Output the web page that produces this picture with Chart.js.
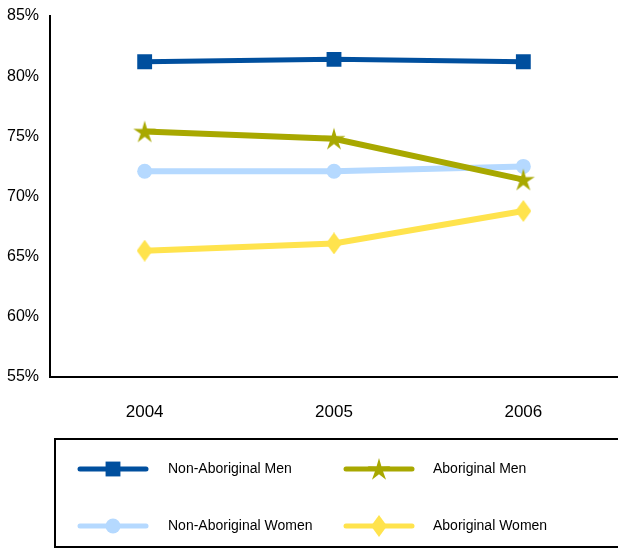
<!DOCTYPE html>
<html>
<head>
<meta charset="utf-8">
<script src="https://cdn.jsdelivr.net/npm/chart.js@4/dist/chart.umd.min.js"></script>
<style>
  html, body { margin: 0; padding: 0; background: #fff; }
  canvas { display: block; }
</style>
</head>
<body>
<canvas id="c" width="618" height="550"></canvas>
<script>
// Employment rate by year, percent
const years = ['2004', '2005', '2006'];
const nonAboriginalMen = [81.2, 81.4, 81.2];
const aboriginalMen = [75.4, 74.8, 71.4];
const nonAboriginalWomen = [72.1, 72.1, 72.5];
const aboriginalWomen = [65.5, 66.1, 68.8];
const seriesNames = ['Non-Aboriginal Men', 'Aboriginal Men', 'Non-Aboriginal Women', 'Aboriginal Women'];

const FONT = 'Liberation Sans, Arial, sans-serif';

// Marker sprites for the star and the tall diamond
function starSprite(color, outer, inner) {
  const s = Math.ceil(outer * 2 + 2);
  const cv = document.createElement('canvas');
  cv.width = s; cv.height = s;
  const g = cv.getContext('2d');
  g.fillStyle = color;
  g.beginPath();
  for (let i = 0; i < 10; i++) {
    const r = i % 2 === 0 ? outer : inner;
    const a = -Math.PI / 2 + i * Math.PI / 5;
    const px = s / 2 + r * Math.cos(a);
    const py = s / 2 + 1 + r * Math.sin(a);
    if (i === 0) g.moveTo(px, py); else g.lineTo(px, py);
  }
  g.closePath();
  g.fill();
  return cv;
}
function diamondSprite(color, w, h) {
  const cv = document.createElement('canvas');
  cv.width = w; cv.height = h;
  const g = cv.getContext('2d');
  g.fillStyle = color;
  g.beginPath();
  g.moveTo(w / 2, 0);
  g.lineTo(w, h / 2);
  g.lineTo(w / 2, h);
  g.lineTo(0, h / 2);
  g.closePath();
  g.fill();
  return cv;
}

const C_BLUE = '#004f9e';
const C_OLIVE = '#a8a800';
const C_LIGHT = '#b5d9ff';
const C_YELLOW = '#ffe34d';

const starImg = starSprite(C_OLIVE, 12, 4.2);
const diamondImg = diamondSprite(C_YELLOW, 16, 22);

// Two-column boxed legend beneath the plot
const boxedLegend = {
  id: 'boxedLegend',
  afterDraw(chart) {
    const ctx = chart.ctx;
    ctx.save();
    ctx.strokeStyle = '#000';
    ctx.lineWidth = 2;
    ctx.strokeRect(55, 439, 600, 108);
    const cols = [{ lx: 80, tx: 168 }, { lx: 346, tx: 433 }];
    const rows = [469, 526];
    chart.data.datasets.forEach((ds, i) => {
      const col = cols[i % 2];
      const y = rows[Math.floor(i / 2)];
      ctx.strokeStyle = ds.borderColor;
      ctx.lineWidth = 5;
      ctx.lineCap = 'round';
      ctx.beginPath();
      ctx.moveTo(col.lx, y);
      ctx.lineTo(col.lx + 66, y);
      ctx.stroke();
      ctx.fillStyle = ds.pointBackgroundColor;
      Chart.helpers.drawPoint(ctx, {
        pointStyle: ds.pointStyle, radius: ds.pointRadius, rotation: 0, borderWidth: 0
      }, col.lx + 33, y);
      ctx.fillStyle = '#000';
      ctx.font = '14px ' + FONT;
      ctx.textBaseline = 'middle';
      ctx.textAlign = 'left';
      ctx.fillText(ds.label, col.tx, y);
    });
    ctx.restore();
  }
};

new Chart(document.getElementById('c'), {
  type: 'line',
  data: {
    labels: years,
    datasets: [
      { label: seriesNames[0], data: nonAboriginalMen, borderColor: C_BLUE, borderWidth: 5,
        pointStyle: 'rect', pointRadius: 10.5, pointBackgroundColor: C_BLUE, pointBorderWidth: 0 },
      { label: seriesNames[1], data: aboriginalMen, borderColor: C_OLIVE, borderWidth: 6,
        pointStyle: starImg, pointRadius: 12, pointBackgroundColor: C_OLIVE, pointBorderWidth: 0 },
      { label: seriesNames[2], data: nonAboriginalWomen, borderColor: C_LIGHT, borderWidth: 6,
        pointStyle: 'circle', pointRadius: 7.5, pointBackgroundColor: C_LIGHT, pointBorderWidth: 0 },
      { label: seriesNames[3], data: aboriginalWomen, borderColor: C_YELLOW, borderWidth: 6,
        pointStyle: diamondImg, pointRadius: 11, pointBackgroundColor: C_YELLOW, pointBorderWidth: 0 }
    ]
  },
  options: {
    responsive: false,
    animation: false,
    events: [],
    layout: { autoPadding: false, padding: { left: 0, right: 0, top: 16, bottom: 123 } },
    plugins: { legend: { display: false }, tooltip: { enabled: false } },
    elements: { line: { tension: 0 } },
    scales: {
      x: {
        offset: true,
        grid: { display: false, drawTicks: false },
        border: { color: '#000', width: 2 },
        ticks: { color: '#000', font: { family: FONT, size: 17 }, padding: 25 },
        afterFit(s) { s.height = 50; s.paddingLeft = 0; s.paddingRight = 0; }
      },
      y: {
        min: 55, max: 85,
        grid: { display: false, drawTicks: false },
        border: { color: '#000', width: 2 },
        ticks: { stepSize: 5, color: '#000', font: { family: FONT, size: 16 }, padding: 11,
                 callback: v => v + '%' },
        afterFit(s) { s.width = 50; s.paddingTop = 0; s.paddingBottom = 0; }
      }
    }
  },
  plugins: [boxedLegend]
});
</script>
</body>
</html>
